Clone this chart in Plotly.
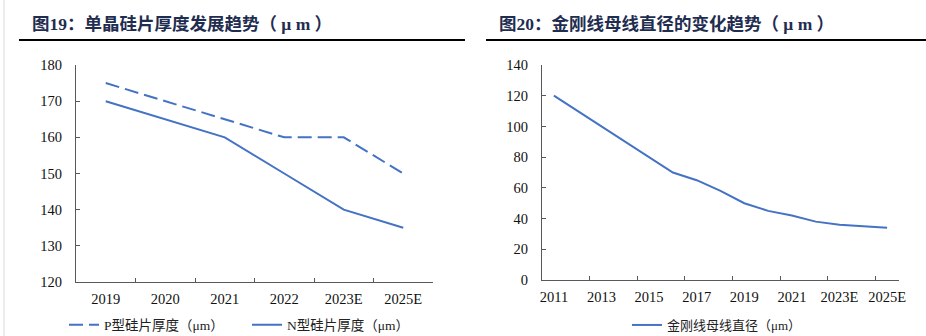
import plotly.graph_objects as go

# ---- data ----
years_left = ["2019", "2020", "2021", "2022", "2023E", "2025E"]
p_type = [175, 170, 165, 160, 160, 150]
n_type = [170, 165, 160, 150, 140, 135]

years_right = ["2011", "2012", "2013", "2014", "2015", "2016", "2017", "2018",
               "2019", "2020", "2021", "2022", "2023E", "2024E", "2025E"]
wire_diam = [120, 110, 100, 90, 80, 70, 65, 58, 50, 45, 42, 38, 36, 35, 34]
right_ticks = ["2011", "2013", "2015", "2017", "2019", "2021", "2023E", "2025E"]

title_left = "图19：单晶硅片厚度发展趋势（ μ m ）"
title_right = "图20：金刚线母线直径的变化趋势（ μ m ）"
name_p = "P型硅片厚度（μm）"
name_n = "N型硅片厚度（μm）"
name_w = "金刚线母线直径（μm）"

W, H = 926, 336
BLUE = "#4472C4"
FONT = "'Liberation Serif', 'Noto Sans CJK SC', serif"

def px(x):
    return x / W

def py(y):
    return 1 - y / H

fig = go.Figure()
fig.add_trace(go.Scatter(x=years_left, y=p_type, mode="lines", name=name_p,
                         line=dict(color=BLUE, width=2, dash="14px,6px"),
                         xaxis="x", yaxis="y", legend="legend"))
fig.add_trace(go.Scatter(x=years_left, y=n_type, mode="lines", name=name_n,
                         line=dict(color=BLUE, width=2),
                         xaxis="x", yaxis="y", legend="legend"))
fig.add_trace(go.Scatter(x=years_right, y=wire_diam, mode="lines", name=name_w,
                         line=dict(color=BLUE, width=2),
                         xaxis="x2", yaxis="y2", legend="legend2"))

axis_common = dict(showline=True, linecolor="#595959", linewidth=1,
                   ticks="inside", ticklen=4, tickcolor="#595959",
                   showgrid=False, zeroline=False, automargin=False,
                   tickfont=dict(family=FONT, size=14.5, color="#111111"))

fig.update_layout(
    width=W, height=H,
    margin=dict(l=0, r=0, t=0, b=0, autoexpand=False),
    paper_bgcolor="white", plot_bgcolor="white",
    showlegend=True,
    xaxis=dict(domain=[px(76), px(433)], anchor="y", type="category",
               range=[-0.5, len(years_left) - 0.5], tickangle=0,
               tickson="boundaries", ticklabelstandoff=4, **axis_common),
    yaxis=dict(domain=[py(282), py(65)], anchor="x", range=[120, 180], dtick=10,
               ticklabelstandoff=10, **axis_common),
    xaxis2=dict(domain=[px(542), px(899)], anchor="y2", type="category",
                range=[-0.5, len(years_right) - 0.5], tickangle=0,
                tickson="boundaries", tickmode="array", tickvals=right_ticks,
                ticktext=right_ticks, ticklabelstandoff=4, **axis_common),
    yaxis2=dict(domain=[py(280), py(65)], anchor="x2", range=[0, 140], dtick=20,
                ticklabelstandoff=10, **axis_common),
    legend=dict(orientation="h", x=px(64), y=py(325), xanchor="left", yanchor="middle",
                font=dict(family=FONT, size=13.5, color="#222222"),
                bgcolor="rgba(0,0,0,0)", itemwidth=30, entrywidth=138),
    legend2=dict(orientation="h", x=px(627), y=py(325), xanchor="left", yanchor="middle",
                 font=dict(family=FONT, size=13, color="#222222"),
                 bgcolor="rgba(0,0,0,0)", itemwidth=30),
)

fig.add_annotation(text="<b>" + title_left + "</b>", xref="paper", yref="paper",
                   x=px(30), y=py(24.5), xanchor="left", yanchor="middle", showarrow=False,
                   font=dict(family=FONT, size=17.5, color="#1F2D50"))
fig.add_annotation(text="<b>" + title_right + "</b>", xref="paper", yref="paper",
                   x=px(497), y=py(24.5), xanchor="left", yanchor="middle", showarrow=False,
                   font=dict(family=FONT, size=17.5, color="#1F2D50"))

# title underlines and page border
fig.add_shape(type="line", xref="paper", yref="paper", x0=px(19), x1=px(465),
              y0=py(40), y1=py(40), line=dict(color="black", width=2))
fig.add_shape(type="line", xref="paper", yref="paper", x0=px(486), x1=px(926),
              y0=py(40), y1=py(40), line=dict(color="black", width=2))
fig.add_shape(type="line", xref="paper", yref="paper", x0=px(4), x1=px(4),
              y0=0, y1=1, line=dict(color="#d9d9d9", width=1))

fig.write_html("out.html")
